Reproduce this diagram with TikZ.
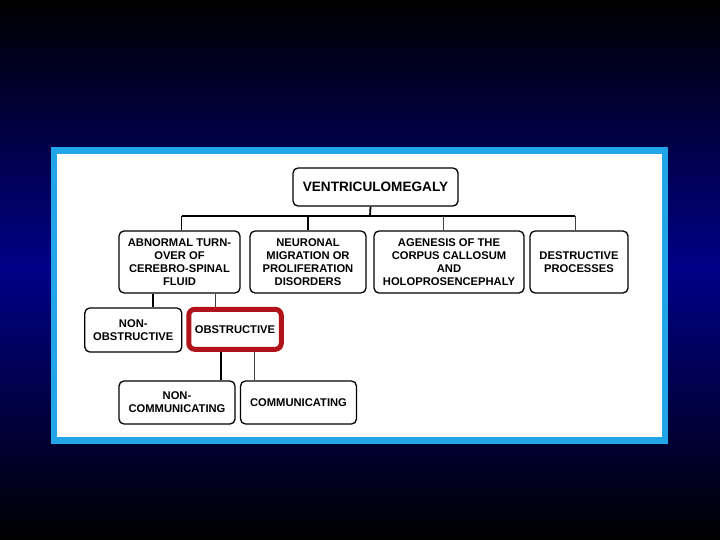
\documentclass[tikz,border=0pt]{standalone}
\usepackage{fontspec}
\setmainfont{Liberation Sans}
\usetikzlibrary{positioning}
\definecolor{navy}{RGB}{0,0,135}
\definecolor{panelcyan}{RGB}{34,165,232}
\definecolor{markred}{RGB}{176,20,26}
\tikzset{
  box/.style={draw=black, line width=1.3pt, rounded corners=5pt, fill=white,
    align=center, inner sep=2pt,
    font=\bfseries\fontsize{11.2}{13.2}\selectfont},
  markbox/.style={box, draw=markred, line width=5pt, rounded corners=6pt},
  thickline/.style={line width=1.8pt},
  thinline/.style={line width=0.8pt, black!75}
}
\begin{document}
\begin{tikzpicture}[x=1pt, y=-1pt]
% background and panel
\shade[top color=black, bottom color=black, middle color=navy] (0,0) rectangle (720,540);
\fill[panelcyan] (50.5,147) rectangle (668,444);
\fill[white] (57,154) rectangle (661.5,437);
% first level
\node[box, minimum width=165pt, minimum height=38pt] (vent) at (375.5,187) {\fontsize{13.6}{15}\selectfont VENTRICULOMEGALY};
\node[box, minimum width=121pt, minimum height=62pt] (abn) at (179.5,262) {ABNORMAL TURN-\\OVER OF\\CEREBRO-SPINAL\\FLUID};
\node[box, minimum width=116pt, minimum height=62pt] (neu) at (308,262) {NEURONAL\\MIGRATION OR\\PROLIFERATION\\DISORDERS};
\node[box, minimum width=150pt, minimum height=62pt] (agen) at (449,262) {AGENESIS OF THE\\CORPUS CALLOSUM\\AND\\HOLOPROSENCEPHALY};
\node[box, minimum width=98pt, minimum height=62pt] (dest) at (579,262) {DESTRUCTIVE\\PROCESSES};
% second level
\node[box, minimum width=97pt, minimum height=44pt] (nonobs) at (133.3,330) {NON-\\OBSTRUCTIVE};
\node[markbox, minimum width=92.5pt, minimum height=40pt] (obs) at (235,329.3) {OBSTRUCTIVE};
% third level
\node[box, minimum width=116pt, minimum height=43pt] (noncomm) at (177,402.5) {NON-\\COMMUNICATING};
\node[box, minimum width=116pt, minimum height=43pt] (comm) at (298.5,402.5) {COMMUNICATING};
% connectors
\coordinate (bus) at (370,216);
\draw[thickline] ([xshift=-5pt]vent.south) -- (bus);
\draw[thickline] ([xshift=2pt]abn.north |- bus) -- ([xshift=-4pt]dest.north |- bus);
\draw[thickline] ([xshift=2pt]abn.north |- bus) -- ([xshift=2pt]abn.north);
\draw[thickline] (neu.north |- bus) -- (neu.north);
\draw[thinline] ([xshift=-6pt]agen.north |- bus) -- ([xshift=-6pt]agen.north);
\draw[thinline] ([xshift=-4pt]dest.north |- bus) -- ([xshift=-4pt]dest.north);
\draw[thickline] ([xshift=20pt]nonobs.north) -- ([xshift=20pt]nonobs.north |- abn.south);
\draw[thinline] ([xshift=-20pt]obs.north) -- ([xshift=-20pt]obs.north |- abn.south);
\draw[thickline] ([xshift=44pt]noncomm.north) -- ([xshift=44pt]noncomm.north |- obs.south);
\draw[thinline] ([xshift=-44pt]comm.north) -- ([xshift=-44pt]comm.north |- obs.south);
\end{tikzpicture}
\end{document}
